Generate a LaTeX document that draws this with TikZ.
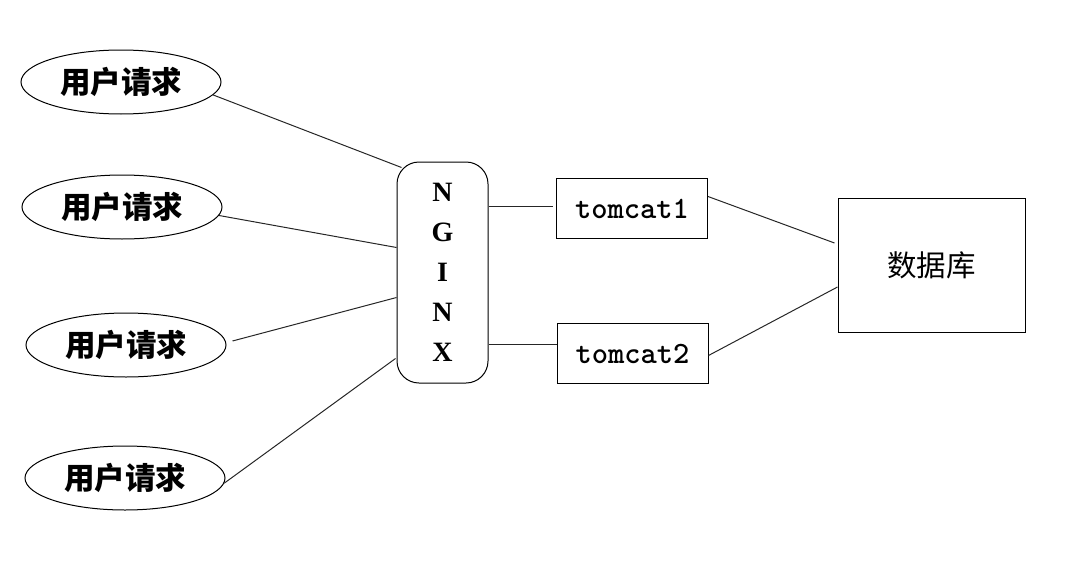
\documentclass[tikz,border=0pt]{standalone}
\usepackage{fontspec}
\setmainfont{Liberation Serif}
\newfontfamily\cjk{Noto Sans CJK SC}
\usetikzlibrary{shapes.geometric,calc}
\tikzset{
  req/.style={ellipse,draw,line width=1pt,minimum width=200pt,minimum height=64pt,inner sep=0pt,
    font=\cjk\bfseries\fontsize{30.5}{34}\selectfont},
  tbox/.style={rectangle,draw,line width=1pt,minimum width=151pt,minimum height=60pt,inner sep=0pt,
    font=\ttfamily\bfseries\fontsize{31}{34}\selectfont},
  ngbox/.style={rectangle,draw,line width=1pt,rounded corners=22pt,minimum width=91pt,minimum height=221pt,
    inner sep=0pt,align=center,font=\bfseries\fontsize{28}{40}\selectfont},
  dbbox/.style={rectangle,draw,line width=1pt,minimum width=187pt,minimum height=134pt,inner sep=0pt,
    font=\cjk\fontsize{29.5}{34}\selectfont},
  link/.style={line width=1pt,draw=black!85}
}
\begin{document}
\begin{tikzpicture}[x=1pt,y=-1pt]
\useasboundingbox (0,0) rectangle (1070,570);
\node[req] (e1) at (121,82) {用户请求};
\node[req] (e2) at (122,207) {用户请求};
\node[req] (e3) at (126,345) {用户请求};
\node[req] (e4) at (125,478) {用户请求};
\node[ngbox] (ng) at (442.5,272.5) {N\\G\\I\\N\\X};
\node[tbox] (t1) at (632,208.5) {tomcat1};
\node[tbox] (t2) at (632.5,353.5) {tomcat2};
\node[dbbox] (db) at (931.5,265) {数据库};
\draw[link] (e1.-8) -- ($(ng.north west)+(5,6)$);
\draw[link] (e2.-5) -- ($(ng.west)+(0,-25)$);
\draw[link] ($(e3.east)+(6,-4)$) -- ($(ng.west)+(0,25)$);
\draw[link] (e4.-3) -- ($(ng.south west)+(-1,-25)$);
\coordinate (c1) at ($(t1.west)+(-3,-2)$);
\coordinate (c2) at ($(t2.west)+(0,-9.5)$);
\draw[link] (ng.east |- c1) -- (c1);
\draw[link] (ng.east |- c2) -- (c2);
\draw[link] ($(t1.east)+(0,-12)$) -- ($(db.west)+(-3,-22)$);
\draw[link] ($(t2.east)+(0,2)$) -- ($(db.west)+(0,22)$);
\end{tikzpicture}
\end{document}
